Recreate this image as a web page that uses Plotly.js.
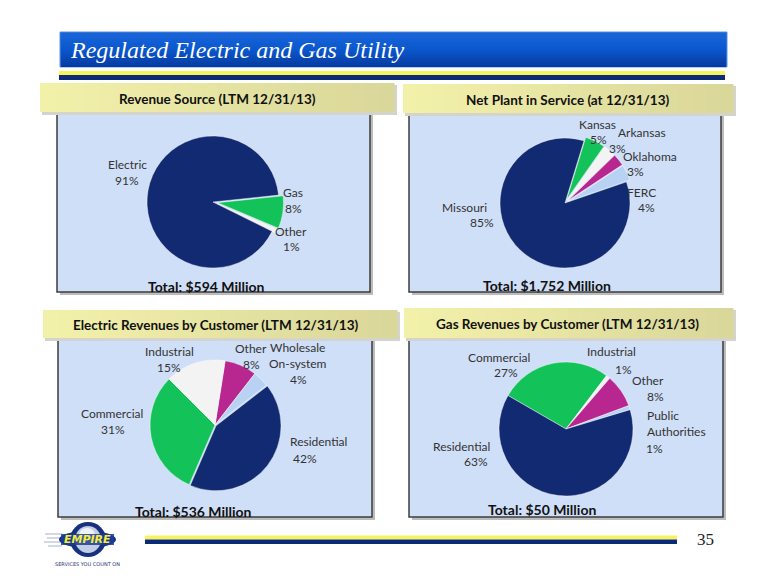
<!DOCTYPE html>
<html>
<head>
<meta charset="utf-8">
<script src="https://cdn.plot.ly/plotly-3.0.1.min.js"></script>
<style>html,body{margin:0;padding:0;background:#fff;}#chart{width:780px;height:585px;}</style>
</head>
<body>
<div id="chart"></div>
<script>
// ---------------- DATA ----------------
const slideTitle = 'Regulated Electric and Gas Utility';
const panelTitles = ['Revenue Source (LTM 12/31/13)', 'Net Plant in Service (at 12/31/13)',
                     'Electric Revenues by Customer (LTM 12/31/13)', 'Gas Revenues by Customer (LTM 12/31/13)'];
const totalLabels = ['Total: $594 Million', 'Total: $1,752 Million', 'Total: $536 Million', 'Total: $50 Million'];

const revLabels = ['Gas', 'Other', 'Electric'];
const revValues = [8, 1, 91];

const plantLabels = ['Kansas', 'Arkansas', 'Oklahoma', 'FERC', 'Missouri'];
const plantValues = [5, 3, 3, 4, 85];

const elecLabels = ['Other', 'Wholesale<br>On-system', 'Residential', 'Commercial', 'Industrial'];
const elecValues = [8, 4, 42, 31, 15];

const gasLabels = ['Commercial', 'Industrial', 'Other', 'Public<br>Authorities', 'Residential'];
const gasValues = [27, 1, 8, 1, 63];

const pageNumber = '35';

// ---------------- STYLE / LAYOUT ----------------
const NAVY = '#112a72', GREEN = '#13c35a', WHITE = '#f3f3f3', MAG = '#b8268f', LBLUE = '#b7d2f2';
const W = 780, H = 585;

const pies = [
  {labels: revLabels, values: revValues, colors: [GREEN, WHITE, NAVY], pull: [0.07, 0.07, 0],
   cx: 213, cy: 202, r: 66, rot: 84,
   pos: [{n:[293,192], p:[293,208]}, {n:[291,231], p:[291,246]}, {n:[127,164], p:[127,180]}]},
  {labels: plantLabels, values: plantValues, colors: [GREEN, WHITE, MAG, LBLUE, NAVY], pull: [0.06,0.06,0.06,0.06,0],
   cx: 565, cy: 203, r: 65, rot: 17,
   pos: [{n:[597,124], p:[598,139]}, {n:[642,132], p:[617,148]}, {n:[650,156], p:[635,171]},
         {n:[641,192], p:[646,207]}, {n:[464,207], p:[482,222]}]},
  {labels: elecLabels, values: elecValues, colors: [MAG, LBLUE, NAVY, GREEN, WHITE], pull: [0,0,0.02,0,0],
   cx: 215, cy: 425, r: 65, rot: 9,
   pos: [{n:[251,348], p:[251,364]}, {n:[298,355.5], p:[298,379]}, {n:[318,441], p:[305,458]},
         {n:[112,413], p:[113,429]}, {n:[169,351], p:[169,367]}]},
  {labels: gasLabels, values: gasValues, colors: [GREEN, WHITE, MAG, LBLUE, NAVY], pull: [0,0,0,0,0],
   cx: 566, cy: 429, r: 67, rot: -60,
   pos: [{n:[499,357], p:[506,372]}, {n:[611,351], p:[623,369]}, {n:[648,380], p:[655,396]},
         {n:[645,423], p:[654,448], left:true}, {n:[461,446], p:[476,461]}]}
];

const panels = [
  {hx:[40,394], hy:[83,112], bx:[57,370], by:[112,292], tx:217, ty:99, totx:206, toty:286},
  {hx:[403,733], hy:[84,113], bx:[409,721], by:[113,292], tx:567, ty:100, totx:547, toty:285},
  {hx:[43,397], hy:[310,338], bx:[58,372], by:[338,517], tx:216, ty:325, totx:193, toty:511},
  {hx:[404,733], hy:[308,338], bx:[409,723], by:[338,517], tx:567, ty:324, totx:542, toty:509}
];

const traces = pies.map(p => {
  const maxPull = Math.max(...p.pull);
  const half = p.r * (1 + maxPull);
  return {
    type: 'pie', labels: p.labels, values: p.values, sort: false, direction: 'clockwise',
    rotation: p.rot, pull: p.pull, textinfo: 'none', hoverinfo: 'label+percent',
    marker: {colors: p.colors, line: {color: 'rgba(255,255,255,0.55)', width: 0.8}},
    domain: {x: [(p.cx - half) / W, (p.cx + half) / W], y: [(H - p.cy - half) / H, (H - p.cy + half) / H]},
    showlegend: false
  };
});

const shapes = [];
const annotations = [];
const rect = (x0, y0, x1, y1, fill, line, lw) => shapes.push({type:'rect', xref:'x', yref:'y', x0, y0, x1, y1,
  fillcolor: fill, line: {color: line || fill, width: lw === undefined ? 0 : lw}, layer: 'below'});
const ann = (x, y, text, size, color, opts) => annotations.push(Object.assign({xref:'x', yref:'y', x, y, text,
  showarrow:false, xanchor:'center', yanchor:'middle', font:{family:'Lato, sans-serif', size, color}}, opts || {}));
const mix = (a, b, t) => 'rgb(' + a.map((v, k) => Math.round(v + (b[k] - v) * t)).join(',') + ')';

// Title banner (vertical gradient)
rect(60, 32, 727, 67, '#0b55cb', '#5d93e6', 1);
const bandTop = [24, 100, 215], bandMid = [10, 86, 205], bandBot = [6, 60, 160];
for (let k = 0; k < 17; k++) {
  const t = k / 16;
  const c = t < 0.5 ? mix(bandTop, bandMid, t * 2) : mix(bandMid, bandBot, (t - 0.5) * 2);
  rect(61, 33 + k * 2, 726, 35 + k * 2, c);
}
ann(68, 49.5, '<i>' + slideTitle + '</i>', 24, '#ffffff', {xanchor:'left', font:{family:'Liberation Serif, serif', size:24, color:'#ffffff'}});
// stripes
rect(59, 71, 725, 75, '#f6f35c');
rect(59, 75, 725, 80, '#0b2a78');

// Panels
panels.forEach((pn, i) => {
  rect(pn.bx[0] + 3, pn.by[0] + 3, pn.bx[1] + 3, pn.by[1] + 3, '#bcbcbc');
  rect(pn.bx[0], pn.by[0], pn.bx[1], pn.by[1], '#cfdff8', '#3d3d3d', 1.5);
  rect(pn.hx[0] + 2, pn.hy[0] + 2, pn.hx[1] + 3, pn.hy[1] + 3, '#d4d4cc');
  const n = 24, wseg = (pn.hx[1] - pn.hx[0]) / n;
  for (let k = 0; k < n; k++) {
    rect(pn.hx[0] + k * wseg, pn.hy[0], pn.hx[0] + (k + 1) * wseg + 0.6, pn.hy[1],
         mix([242, 241, 170], [218, 215, 154], k / (n - 1)));
  }
  ann(pn.tx, pn.ty, '<b>' + panelTitles[i] + '</b>', 13.5, '#111111');
  ann(pn.totx, pn.toty, '<b>' + totalLabels[i] + '</b>', 14, '#111111');
});

// Pie labels
pies.forEach(p => {
  p.labels.forEach((lab, j) => {
    const ps = p.pos[j];
    const opt = ps.left ? {xanchor:'left', align:'left'} : {};
    ann(ps.n[0], ps.n[1], lab, 12, '#333333', opt);
    ann(ps.p[0], ps.p[1], p.values[j] + '%', 12, '#333333');
  });
});

// Footer
rect(145, 535.5, 677, 539.5, '#f6f35c');
rect(145, 539.5, 677, 544, '#0b2a78');
ann(705, 539, pageNumber, 17, '#222222', {font:{family:'Liberation Serif, serif', size:17, color:'#222222'}});
// logo
[[45,533,62,535],[47,537,62,539],[44,541,62,543],[48,545,62,547]].forEach(s => rect(s[0], s[1], s[2], s[3], '#d4d8e2'));
shapes.push({type:'circle', xref:'x', yref:'y', x0:70, y0:522, x1:106, y1:557, fillcolor:'#16327e', line:{width:0}, layer:'below'});
shapes.push({type:'circle', xref:'x', yref:'y', x0:59, y0:531, x1:116, y1:548, fillcolor:'#16327e', line:{width:0}, layer:'below'});
shapes.push({type:'circle', xref:'x', yref:'y', x0:75, y0:526, x1:101, y1:553, fillcolor:'#c3cde6', line:{width:0}, layer:'below'});
shapes.push({type:'circle', xref:'x', yref:'y', x0:79, y0:528, x1:95, y1:542, fillcolor:'#eef1f8', line:{width:0}, layer:'below'});
rect(61, 534, 114, 545, 'rgba(30,60,150,0.85)');
ann(87, 539.5, '<b><i>EMPIRE</i></b>', 11, '#f2ee3a', {font:{family:'DejaVu Sans, sans-serif', size:11, color:'#f2ee3a'}});
ann(87, 564, 'SERVICES YOU COUNT ON', 5, '#1c2f6e', {font:{family:'DejaVu Sans, sans-serif', size:5, color:'#1c2f6e'}});

const layout = {
  width: W, height: H, margin: {l:0, r:0, t:0, b:0, pad:0},
  paper_bgcolor: '#ffffff', plot_bgcolor: 'rgba(0,0,0,0)',
  xaxis: {range: [0, W], visible: false, fixedrange: true},
  yaxis: {range: [H, 0], visible: false, fixedrange: true},
  shapes, annotations, showlegend: false
};

Plotly.newPlot('chart', traces, layout, {displayModeBar: false, staticPlot: true});
</script>
</body>
</html>
